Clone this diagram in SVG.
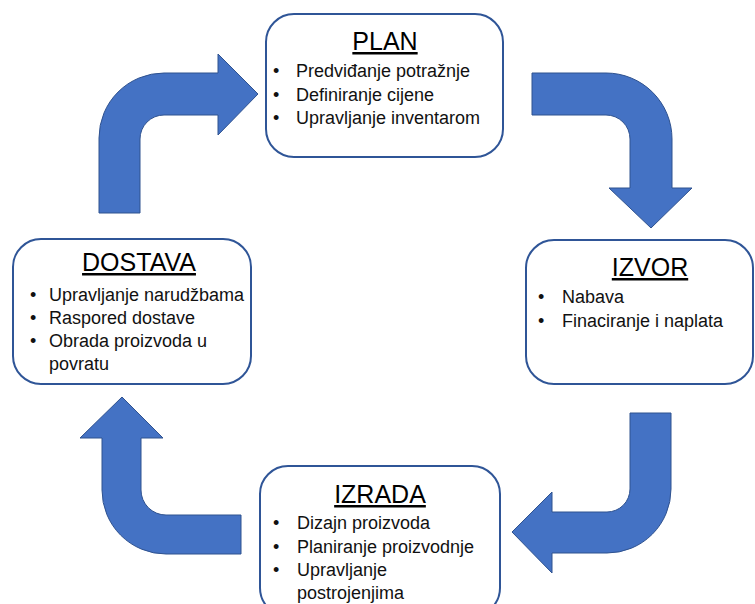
<svg xmlns="http://www.w3.org/2000/svg" width="755" height="604" viewBox="0 0 755 604">
<style>
.box{fill:#fff;stroke:#2F5597;stroke-width:2}
.arr{fill:#4472C4;stroke:#2F528F;stroke-width:1}
.t{font-family:"Liberation Sans",Arial,sans-serif;font-size:25px;fill:#000;text-anchor:middle;text-decoration:underline}
.b{font-family:"Liberation Sans",Arial,sans-serif;font-size:18px;fill:#111}
</style>
<rect width="755" height="604" fill="#fff"/>
<g id="connectors">
<path class="arr" d="M99 213 L99 138 A65 65 0 0 1 164 73 L218 73 L218 54 L258 94 L218 135 L218 115 L164 115 A24 24 0 0 0 140 139 L140 213 Z"/>
<path class="arr" d="M532 73 L606 73 A66 66 0 0 1 672 139 L672 188 L692 188 L651 228 L609 188 L630 188 L630 139 A24 24 0 0 0 606 115 L532 115 Z"/>
<path class="arr" d="M630 413 L671 413 L671 489 A64 64 0 0 1 607 553 L552 553 L552 573 L512 532 L552 492 L552 512 L607 512 A23 23 0 0 0 630 489 Z"/>
<path class="arr" d="M241 515 L166 515 A25 25 0 0 1 141 490 L141 438 L163 438 L122 397 L80 438 L102 438 L102 490 A64 64 0 0 0 166 554 L241 554 Z"/>
</g>
<g id="plan">
<rect class="box" x="266" y="14" width="237" height="143" rx="28"/>
<text class="t" x="385" y="50">PLAN</text>
<text class="b"><tspan x="273" y="77">•</tspan><tspan x="296" y="77">Predviđanje potražnje</tspan><tspan x="273" y="101">•</tspan><tspan x="296" y="101">Definiranje cijene</tspan><tspan x="273" y="124">•</tspan><tspan x="296" y="124">Upravljanje inventarom</tspan></text>
</g>
<g id="izvor">
<rect class="box" x="526" y="240" width="227" height="144" rx="28"/>
<text class="t" x="650" y="276">IZVOR</text>
<text class="b"><tspan x="538" y="303">•</tspan><tspan x="562" y="303">Nabava</tspan><tspan x="538" y="327">•</tspan><tspan x="562" y="327">Finaciranje i naplata</tspan></text>
</g>
<g id="izrada">
<rect class="box" x="260" y="466" width="240" height="150" rx="28"/>
<text class="t" x="380" y="503">IZRADA</text>
<text class="b"><tspan x="273" y="529">•</tspan><tspan x="297" y="529">Dizajn proizvoda</tspan><tspan x="273" y="553">•</tspan><tspan x="297" y="553">Planiranje proizvodnje</tspan><tspan x="273" y="576">•</tspan><tspan x="297" y="576">Upravljanje</tspan><tspan x="297" y="599">postrojenjima</tspan></text>
</g>
<g id="dostava">
<rect class="box" x="13" y="239" width="238" height="145" rx="28"/>
<text class="t" x="139" y="271">DOSTAVA</text>
<text class="b"><tspan x="30" y="301">•</tspan><tspan x="49" y="301">Upravljanje narudžbama</tspan><tspan x="30" y="324">•</tspan><tspan x="49" y="324">Raspored dostave</tspan><tspan x="30" y="347">•</tspan><tspan x="49" y="347">Obrada proizvoda u</tspan><tspan x="49" y="370">povratu</tspan></text>
</g>
</svg>
